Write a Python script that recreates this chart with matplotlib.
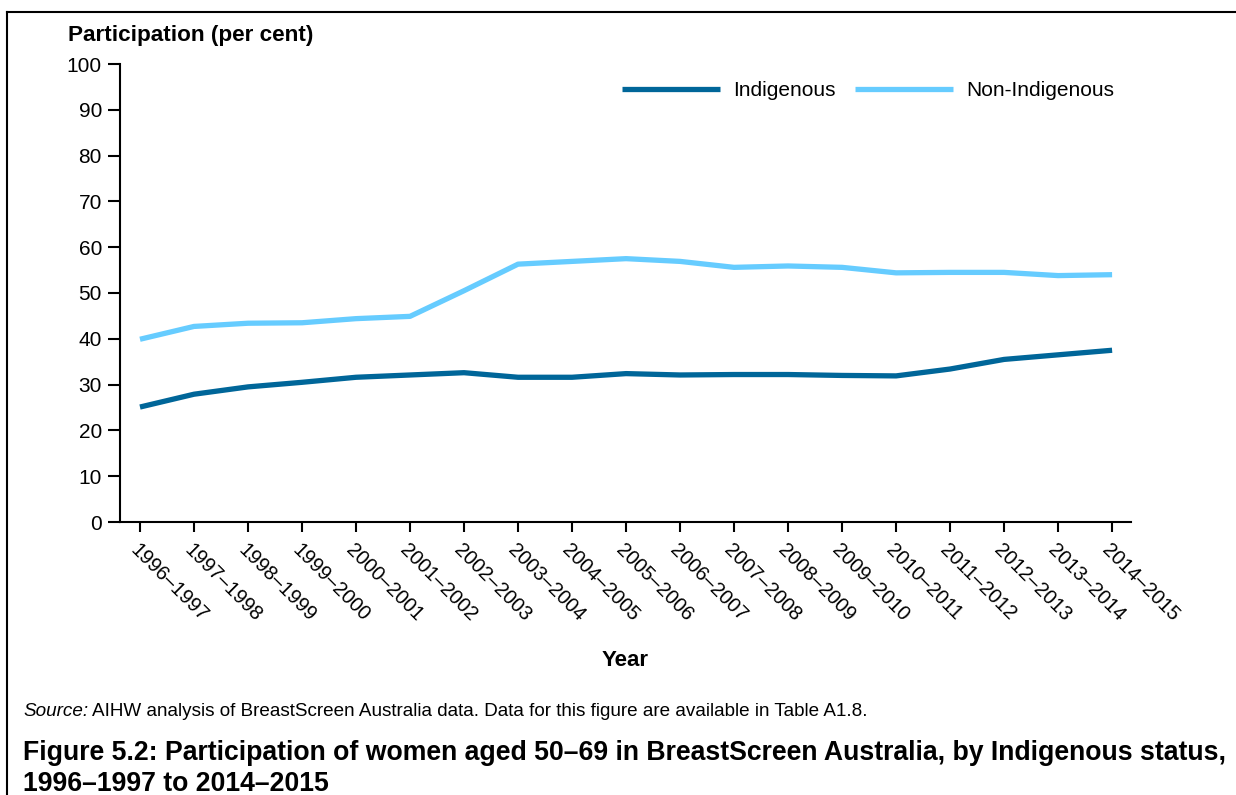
import matplotlib
matplotlib.use("Agg")
import matplotlib.pyplot as plt
from matplotlib.lines import Line2D

plt.rcParams['font.family'] = ['Liberation Sans', 'DejaVu Sans']

# Daten (Teilnahme in Prozent)
years = ['1996–1997', '1997–1998', '1998–1999', '1999–2000', '2000–2001',
         '2001–2002', '2002–2003', '2003–2004', '2004–2005', '2005–2006',
         '2006–2007', '2007–2008', '2008–2009', '2009–2010', '2010–2011',
         '2011–2012', '2012–2013', '2013–2014', '2014–2015']
indigenous = [25.1, 27.9, 29.5, 30.5, 31.6, 32.1, 32.6, 31.6, 31.6, 32.4,
              32.1, 32.2, 32.2, 32.0, 31.9, 33.4, 35.5, 36.5, 37.5]
non_indigenous = [39.9, 42.7, 43.4, 43.5, 44.4, 44.9, 50.5, 56.3, 56.9, 57.5,
                  56.9, 55.6, 55.9, 55.6, 54.4, 54.5, 54.5, 53.8, 54.0]
yticks = list(range(0, 101, 10))

dark = '#006699'
light = '#66CCFF'

W, H = 1236, 795
fig = plt.figure(figsize=(W / 100, H / 100), dpi=100)
ax = fig.add_axes([120 / W, 1 - 522 / H, (1131 - 120) / W, (522 - 64) / H])

x = list(range(len(years)))
ax.plot(x, indigenous, color=dark, lw=3.8, label='Indigenous', solid_capstyle='butt')
ax.plot(x, non_indigenous, color=light, lw=3.8, label='Non-Indigenous', solid_capstyle='butt')

ax.set_xlim(-0.37, len(years) - 1 + 0.35)
ax.set_ylim(0, 100)
ax.set_yticks(yticks)
ax.set_yticklabels([str(v) for v in yticks], fontsize=15)
ax.set_xticks(x)
ax.set_xticklabels(years, rotation=-45, ha='left', va='top', rotation_mode='anchor', fontsize=14.5)

for s in ['top', 'right']:
    ax.spines[s].set_visible(False)
for s in ['left', 'bottom']:
    ax.spines[s].set_linewidth(1.5)
ax.tick_params(axis='y', length=9, width=1.5, pad=4)
ax.tick_params(axis='x', length=7.5, width=1.5, pad=6)

ax.legend(loc='upper right', bbox_to_anchor=(1.002, 1.004), ncol=2, frameon=False,
          fontsize=15, handlelength=4.7, handletextpad=0.65, columnspacing=0.9)

fig.text(68 / W, 1 - 35 / H, 'Participation (per cent)', fontsize=16.2,
         fontweight='bold', va='center', ha='left')
fig.text(625 / W, 1 - 661 / H, 'Year', fontsize=16, fontweight='bold',
         va='center', ha='center')

# Quellenangabe: kursives "Source:" direkt gefolgt vom Text
src = fig.text(23 / W, 1 - 716 / H, 'Source:', fontsize=13.55, style='italic',
               va='baseline', ha='left')
fig.canvas.draw()
bb = src.get_window_extent()
fig.text(bb.x1 / W + 4 / W, 1 - 716 / H, 'AIHW analysis of BreastScreen Australia data. '
         'Data for this figure are available in Table A1.8.', fontsize=13.55,
         va='baseline', ha='left')

fig.text(23 / W, 1 - 760 / H,
         'Figure 5.2: Participation of women aged 50–69 in BreastScreen Australia, by Indigenous status,',
         fontsize=19.15, fontweight='bold', va='baseline', ha='left')
fig.text(23 / W, 1 - 791 / H, '1996–1997 to 2014–2015',
         fontsize=19.15, fontweight='bold', va='baseline', ha='left')

# Rahmen oben und links
fig.add_artist(Line2D([7 / W, 1.0], [1 - 12 / H, 1 - 12 / H], color='black', lw=1.5,
                      transform=fig.transFigure))
fig.add_artist(Line2D([7 / W, 7 / W], [0, 1 - 12 / H], color='black', lw=1.5,
                      transform=fig.transFigure))

fig.savefig('out.png', dpi=100)
